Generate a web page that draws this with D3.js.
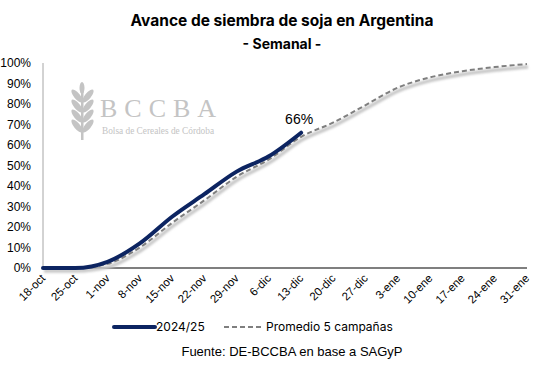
<!DOCTYPE html>
<html>
<head>
<meta charset="utf-8">
<script src="https://cdn.jsdelivr.net/npm/d3@7"></script>
<style>
  body { margin: 0; background: #fff; }
  svg { display: block; }
</style>
</head>
<body>
<div id="chart"></div>
<script>
var weeks = ['18-oct', '25-oct', '1-nov', '8-nov', '15-nov', '22-nov', '29-nov', '6-dic',
             '13-dic', '20-dic', '27-dic', '3-ene', '10-ene', '17-ene', '24-ene', '31-ene'];
var actual = [0, 0, 3, 12, 25, 36, 47, 54.5, 66];
var promedio = [0, 0, 2, 10, 22, 33, 44.5, 53, 64, 71, 79.5, 88, 93, 96, 98, 99.5];
var yTicks = [0, 10, 20, 30, 40, 50, 60, 70, 80, 90, 100];

var width = 535, height = 366;
var margin = {top: 63, right: 8, bottom: 98, left: 43};

var svg = d3.select('#chart').append('svg')
  .attr('width', width)
  .attr('height', height);

var x = d3.scalePoint().domain(weeks).range([margin.left, width - margin.right]);
var y = d3.scaleLinear().domain([0, 100]).range([height - margin.bottom, margin.top]);

// watermark
var wm = svg.append('g').attr('fill', '#c4c4c4');
wm.append('text').attr('x', 100).attr('y', 117)
  .attr('font-family', 'Liberation Serif, serif').attr('font-size', 26)
  .attr('letter-spacing', 7).text('BCCBA');
wm.append('text').attr('x', 102).attr('y', 134)
  .attr('font-family', 'Liberation Serif, serif').attr('font-size', 9.3)
  .text('Bolsa de Cereales de Córdoba');
// wheat leaves
var stem = wm.append('g').attr('transform', 'translate(82,86)');
stem.append('rect').attr('x', -1).attr('y', 4).attr('width', 2.5).attr('height', 50);
[4, 14, 24, 34].forEach(function (dy) {
  stem.append('ellipse').attr('cx', -5).attr('cy', dy + 6).attr('rx', 3).attr('ry', 8)
    .attr('transform', 'rotate(-40,-5,' + (dy + 6) + ')');
  stem.append('ellipse').attr('cx', 6).attr('cy', dy + 6).attr('rx', 3).attr('ry', 8)
    .attr('transform', 'rotate(40,6,' + (dy + 6) + ')');
});
stem.append('ellipse').attr('cx', 0).attr('cy', 2).attr('rx', 2.5).attr('ry', 6);

// titles
svg.append('text').attr('x', 282).attr('y', 26).attr('text-anchor', 'middle')
  .attr('font-family', 'Inter, sans-serif').attr('font-weight', 'bold').attr('font-size', 15.5)
  .text('Avance de siembra de soja en Argentina');
svg.append('text').attr('x', 282).attr('y', 49).attr('text-anchor', 'middle')
  .attr('font-family', 'Inter, sans-serif').attr('font-weight', 'bold').attr('font-size', 14)
  .text('- Semanal -');

// y axis labels
svg.append('g').selectAll('text').data(yTicks).enter().append('text')
  .attr('x', 31).attr('y', function (d) { return y(d) + 4; })
  .attr('text-anchor', 'end')
  .attr('font-family', 'Liberation Sans, Arial, sans-serif').attr('font-size', 12)
  .attr('fill', '#000')
  .text(function (d) { return d + '%'; });

// axis lines
svg.append('line').attr('x1', margin.left).attr('x2', margin.left)
  .attr('y1', y(100)).attr('y2', y(0)).attr('stroke', '#a6a6a6').attr('stroke-width', 1);
svg.append('line').attr('x1', margin.left).attr('x2', width - margin.right)
  .attr('y1', y(0)).attr('y2', y(0)).attr('stroke', '#000').attr('stroke-width', 1.2);

// x labels
svg.append('g').selectAll('text').data(weeks).enter().append('text')
  .attr('transform', function (d) { return 'translate(' + (x(d) + 3) + ',' + (y(0) + 11) + ') rotate(-45)'; })
  .attr('text-anchor', 'end')
  .attr('font-family', 'Liberation Sans, Arial, sans-serif').attr('font-size', 11.5)
  .text(function (d) { return d; });

var line = d3.line()
  .x(function (d, i) { return x(weeks[i]); })
  .y(function (d) { return y(d); })
  .curve(d3.curveMonotoneX);

var defs = svg.append('defs');
defs.append('filter').attr('id', 'blur').append('feGaussianBlur').attr('stdDeviation', 1.3);

// shadow of average
svg.append('path').datum(promedio).attr('d', line)
  .attr('fill', 'none').attr('stroke', '#c8c8c8').attr('stroke-width', 3.5)
  .attr('transform', 'translate(1,3)').attr('filter', 'url(#blur)');

svg.append('path').datum(promedio).attr('d', line)
  .attr('fill', 'none').attr('stroke', '#7f7f7f').attr('stroke-width', 2)
  .attr('stroke-dasharray', '5,3');

svg.append('path').datum(actual).attr('d', line)
  .attr('fill', 'none').attr('stroke', '#0c2461').attr('stroke-width', 4)
  .attr('stroke-linecap', 'round');

// label last value
var last = actual.length - 1;
svg.append('text').attr('x', x(weeks[last]) - 2).attr('y', y(actual[last]) - 9)
  .attr('text-anchor', 'middle')
  .attr('font-family', 'Liberation Sans, Arial, sans-serif').attr('font-size', 14)
  .text(actual[last] + '%');

// legend
var lg = svg.append('g').attr('font-family', 'Inter, sans-serif').attr('font-size', 12);
lg.append('line').attr('x1', 114).attr('x2', 155).attr('y1', 327).attr('y2', 327)
  .attr('stroke', '#0c2461').attr('stroke-width', 4).attr('stroke-linecap', 'round');
lg.append('text').attr('x', 156).attr('y', 331).text('2024/25');
lg.append('line').attr('x1', 224).attr('x2', 264).attr('y1', 327).attr('y2', 327)
  .attr('stroke', '#7f7f7f').attr('stroke-width', 2).attr('stroke-dasharray', '5,3');
lg.append('text').attr('x', 266).attr('y', 331).text('Promedio 5 campañas');

svg.append('text').attr('x', 292).attr('y', 356).attr('text-anchor', 'middle')
  .attr('font-family', 'Liberation Sans, Arial, sans-serif').attr('font-size', 13)
  .text('Fuente: DE-BCCBA en base a SAGyP');
</script>
</body>
</html>
